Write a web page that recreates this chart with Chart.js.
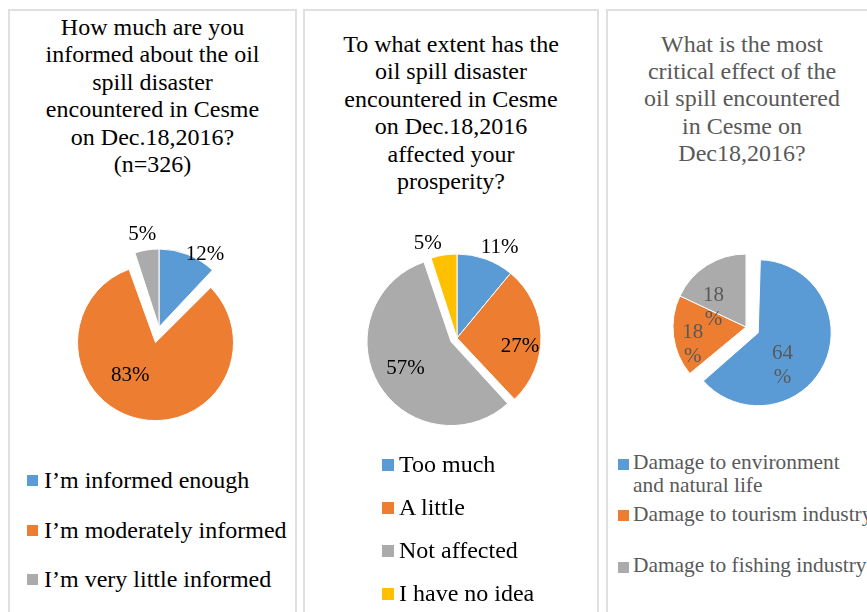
<!DOCTYPE html>
<html>
<head>
<meta charset="utf-8">
<script src="https://cdn.jsdelivr.net/npm/chart.js@4.4.0/dist/chart.umd.min.js"></script>
<style>
    body {
        margin: 0;
        width: 867px;
        height: 612px;
        overflow: hidden;
        position: relative;
        background: #fff;
        font-family: "Liberation Serif", "Times New Roman", serif;
    }
    .panel {
        position: absolute;
        top: 9px;
        height: 700px;
        border: 2px solid #e0e0e0;
        box-sizing: border-box;
    }
    .title {
        position: absolute;
        text-align: center;
        font-size: 24px;
        line-height: 27.4px;
        color: #000;
    }
    canvas { position: absolute; }
    .legend { position: absolute; color: #000; }
    .legend .item { position: relative; }
    .legend .box { position: absolute; left: 0; }
    .legend .txt { position: absolute; white-space: nowrap; }
</style>
</head>
<body>
<div class="panel" style="left:8px;width:289px"></div>
<div class="panel" style="left:303px;width:296px"></div>
<div class="panel" style="left:606px;width:300px"></div>

<div class="title" style="left:8px;width:289px;top:14px">How much are you<br>informed about the oil<br>spill disaster<br>encountered in Cesme<br>on Dec.18,2016?<br>(n=326)</div>
<div class="title" style="left:303px;width:296px;top:31px">To what extent has the<br>oil spill disaster<br>encountered in Cesme<br>on Dec.18,2016<br>affected your<br>prosperity?</div>
<div class="title" style="left:607px;width:270px;top:30.5px;color:#595959">What is the most<br>critical effect of the<br>oil spill encountered<br>in Cesme on<br>Dec18,2016?</div>

<canvas id="pie1" width="240" height="240" style="left:39px;top:207px"></canvas>
<canvas id="pie2" width="240" height="240" style="left:337px;top:218px"></canvas>
<canvas id="pie3" width="200" height="200" style="left:646px;top:227px"></canvas>

<div id="legend1" class="legend" style="left:27px;top:467px;font-size:24px;line-height:27.4px"></div>
<div id="legend2" class="legend" style="left:382px;top:450.5px;font-size:24px;line-height:27.4px"></div>
<div id="legend3" class="legend" style="left:618px;top:451px;font-size:21.4px;line-height:23.3px;color:#595959"></div>

<script>
// Excel-like palette
const sliceColors = ['#5B9BD5', '#ED7D31', '#ABABAB', '#FFC000'];

// Q1: how informed (n=326)
const informedLabels = ['I’m informed enough', 'I’m moderately informed', 'I’m very little informed'];
const informedValues = [12, 83, 5];

// Q2: effect on prosperity
const prosperityLabels = ['Too much', 'A little', 'Not affected', 'I have no idea'];
const prosperityValues = [11, 27, 57, 5];

// Q3: most critical effect
const effectLabels = [['Damage to environment', 'and natural life'], 'Damage to tourism industry', 'Damage to fishing industry'];
const effectValues = [64, 18, 18];

// ArcElement moves an exploded slice by offset/4 and grows its radius by offset/4 * fix
function explodeParts(arc) {
    const off = (arc.options.offset || 0) / 4;
    const fix = 1 - Math.sin(Math.min(Math.PI, arc.circumference));
    return { shift: off, grow: off * fix };
}

// keep exploded slices at the same radius as the others, like Excel does
const keepRadius = {
    id: 'keepRadius',
    afterDatasetsUpdate(chart) {
        chart.getDatasetMeta(0).data.forEach(arc => {
            arc.outerRadius -= explodeParts(arc).grow;
        });
    }
};

// percentage labels placed from each arc's own geometry
const sliceLabels = {
    id: 'sliceLabels',
    afterDatasetsDraw(chart, args, opts) {
        const ctx = chart.ctx;
        const meta = chart.getDatasetMeta(0);
        const values = chart.data.datasets[0].data;
        const radius = chart.data.datasets[0].radius;
        ctx.save();
        ctx.font = opts.font;
        ctx.fillStyle = opts.color;
        ctx.textAlign = 'center';
        ctx.textBaseline = 'middle';
        meta.data.forEach((arc, i) => {
            const p = arc.getProps(['x', 'y', 'startAngle', 'endAngle'], true);
            const mid = (p.startAngle + p.endAngle) / 2;
            const place = opts.place[i];
            const r = explodeParts(arc).shift + radius * place[0];
            const px = p.x + Math.cos(mid) * r + place[1];
            const py = p.y + Math.sin(mid) * r + place[2];
            const lines = opts.wrap ? [String(values[i]), '%'] : [values[i] + '%'];
            lines.forEach((t, k) => {
                ctx.fillText(t, px, py + (k - (lines.length - 1) / 2) * opts.lineHeight);
            });
        });
        ctx.restore();
    }
};

function makePie(id, labels, values, radius, offsets, labelOpts) {
    const ctx = document.getElementById(id).getContext('2d');
    return new Chart(ctx, {
        type: 'pie',
        data: {
            labels: labels,
            datasets: [{
                data: values,
                backgroundColor: sliceColors.slice(0, values.length),
                borderColor: '#ffffff',
                borderWidth: 1,
                offset: offsets,
                hoverOffset: 0,
                radius: radius
            }]
        },
        options: {
            responsive: false,
            animation: false,
            events: [],
            layout: { padding: 0 },
            plugins: {
                legend: { display: false },
                tooltip: { enabled: false },
                sliceLabels: labelOpts
            }
        },
        plugins: [keepRadius, sliceLabels]
    });
}

function buildLegend(chart, elId, slot, boxSize, boxTop, textLeft) {
    const el = document.getElementById(elId);
    const items = chart.options.plugins.legend.labels.generateLabels(chart);
    items.forEach(item => {
        const row = document.createElement('div');
        row.className = 'item';
        row.style.height = slot + 'px';
        const box = document.createElement('span');
        box.className = 'box';
        box.style.background = item.fillStyle;
        box.style.width = boxSize + 'px';
        box.style.height = boxSize + 'px';
        box.style.top = boxTop + 'px';
        const txt = document.createElement('span');
        txt.className = 'txt';
        txt.style.left = textLeft + 'px';
        [].concat(item.text).forEach((line, k) => {
            if (k > 0) txt.appendChild(document.createElement('br'));
            txt.appendChild(document.createTextNode(line));
        });
        row.appendChild(box);
        row.appendChild(txt);
        el.appendChild(row);
    });
}

document.addEventListener('DOMContentLoaded', function() {
    const pie1 = makePie('pie1', informedLabels, informedValues, 78, [0, 64, 0], {
        font: '21px "Liberation Serif", serif',
        color: '#000',
        wrap: false,
        lineHeight: 24,
        place: [[1.08, 15, 6], [0.49, -17, -4], [1.2, -2, 0]]
    });
    const pie2 = makePie('pie2', prosperityLabels, prosperityValues, 84, [0, 0, 28, 0], {
        font: '21px "Liberation Serif", serif',
        color: '#000',
        wrap: false,
        lineHeight: 24,
        place: [[1.18, 9, 3], [0.75, 0, 10], [0.63, 0, 0], [1.16, -14, 2]]
    });
    const pie3 = makePie('pie3', effectLabels, effectValues, 73, [54, 0, 0], {
        font: '21px "Liberation Serif", serif',
        color: '#595959',
        wrap: true,
        lineHeight: 24,
        place: [[0.49, -8, 18], [0.75, 1, 11], [0.47, -14, 9]]
    });

    buildLegend(pie1, 'legend1', 49.7, 11, 8, 17);
    buildLegend(pie2, 'legend2', 43.1, 12, 8.5, 17);
    buildLegend(pie3, 'legend3', 51.7, 11, 7.5, 15);
});
</script>
</body>
</html>
